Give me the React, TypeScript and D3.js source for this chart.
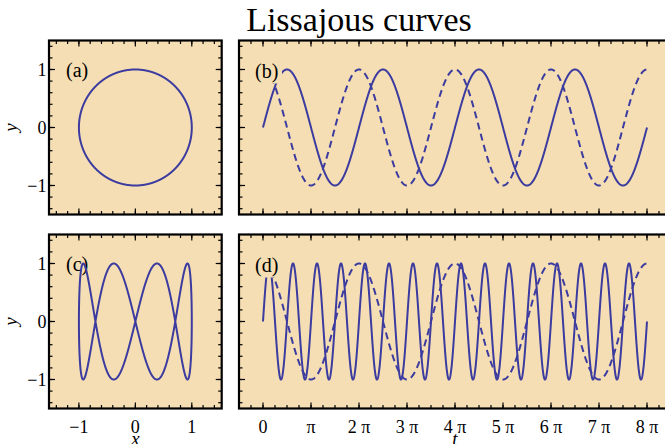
import React, { useEffect, useRef } from "react";
import * as d3 from "d3";

// chart content
const title = "Lissajous curves";
const panelLabels = ["(a)", "(b)", "(c)", "(d)"];
const yFrequencies = [1, 4]; // y = sin(k t), top row and bottom row
const xFrequency = 1; // x = cos(t)
const tMax = 8 * Math.PI;
const unitTicks = [-1, 0, 1];
const unitTickLabels = ["\u22121", "0", "1"];
const piMultiples = [0, 1, 2, 3, 4, 5, 6, 7, 8];
const piTickLabels = ["0", "\u03c0", "2 \u03c0", "3 \u03c0", "4 \u03c0", "5 \u03c0", "6 \u03c0", "7 \u03c0", "8 \u03c0"];

const W = 665;
const H = 444;
const WHEAT = "#f5deb3";
const LINE = "#3b3ba0";
const SERIF = "'Liberation Serif', 'Times New Roman', serif";

const App = () => {
    const svgRef = useRef<SVGSVGElement>(null);

    useEffect(() => {
        const svg = d3.select(svgRef.current);
        svg.selectAll("*").remove();

        const rows = [
            { top: 40.5, bottom: 214.5 },
            { top: 234.5, bottom: 408.5 },
        ];
        const leftCol = { left: 49, right: 221.7 };
        const rightCol = { left: 239, right: 671 };

        const xUnit = d3.scaleLinear().domain([-1.53, 1.53]).range([leftCol.left, leftCol.right]);
        const tScale = d3.scaleLinear().domain([-Math.PI / 2, 8.5 * Math.PI]).range([rightCol.left, rightCol.right]);

        const tSamples = d3.range(0, 2001).map((i) => (i / 2000) * tMax);
        const loopSamples = d3.range(0, 2001).map((i) => (i / 2000) * 2 * Math.PI);

        svg.append("text")
            .attr("x", 359)
            .attr("y", 31)
            .attr("text-anchor", "middle")
            .attr("font-family", SERIF)
            .attr("font-size", 34)
            .text(title);

        const drawFrame = (g, xs, ys, xMajor, xMinor, yMajor, yMinor) => {
            const [x0, x1] = xs.range();
            const [y0, y1] = [ys.range()[1], ys.range()[0]];
            const tick = (x1a, y1a, x2a, y2a) =>
                g.append("line")
                    .attr("x1", x1a).attr("y1", y1a).attr("x2", x2a).attr("y2", y2a)
                    .attr("stroke", "black").attr("stroke-width", 1.2);
            xMinor.forEach((v) => {
                const x = xs(v);
                tick(x, y1, x, y1 - 3.5);
                tick(x, y0, x, y0 + 3.5);
            });
            xMajor.forEach((v) => {
                const x = xs(v);
                tick(x, y1, x, y1 - 6);
                tick(x, y0, x, y0 + 6);
            });
            yMinor.forEach((v) => {
                const y = ys(v);
                tick(x0, y, x0 + 3.5, y);
                tick(x1, y, x1 - 3.5, y);
            });
            yMajor.forEach((v) => {
                const y = ys(v);
                tick(x0, y, x0 + 6, y);
                tick(x1, y, x1 - 6, y);
            });
            g.append("rect")
                .attr("x", x0).attr("y", y0)
                .attr("width", x1 - x0).attr("height", y1 - y0)
                .attr("fill", "none").attr("stroke", "black").attr("stroke-width", 2.2);
        };

        const unitMinor = d3.range(-7, 8).map((i) => i * 0.2);
        const piMajor = piMultiples.map((k) => k * Math.PI);
        const piMinor = d3.range(-2, 35).map((i) => (i * Math.PI) / 4);

        rows.forEach((row, r) => {
            const k = yFrequencies[r];
            const yScale = d3.scaleLinear().domain([-1.5, 1.5]).range([row.bottom, row.top]);

            // left panel: parametric curve
            const gl = svg.append("g");
            gl.append("rect")
                .attr("x", leftCol.left).attr("y", row.top)
                .attr("width", leftCol.right - leftCol.left).attr("height", row.bottom - row.top)
                .attr("fill", WHEAT);
            gl.append("text")
                .attr("x", leftCol.left + 17)
                .attr("y", row.top + 36)
                .attr("font-family", SERIF)
                .attr("font-size", 20)
                .text(panelLabels[r * 2]);
            const lissajous = d3.line<number>()
                .x((t) => xUnit(Math.cos(xFrequency * t)))
                .y((t) => yScale(Math.sin(k * t)));
            gl.append("path")
                .attr("d", lissajous(loopSamples))
                .attr("fill", "none").attr("stroke", LINE).attr("stroke-width", 2);
            drawFrame(gl, xUnit, yScale, unitTicks, unitMinor, unitTicks, unitMinor);

            // right panel: x(t) dashed, y(t) solid
            const gr = svg.append("g");
            gr.append("rect")
                .attr("x", rightCol.left).attr("y", row.top)
                .attr("width", rightCol.right - rightCol.left).attr("height", row.bottom - row.top)
                .attr("fill", WHEAT);
            const xLine = d3.line<number>().x((t) => tScale(t)).y((t) => yScale(Math.cos(xFrequency * t)));
            const yLine = d3.line<number>().x((t) => tScale(t)).y((t) => yScale(Math.sin(k * t)));
            gr.append("path")
                .attr("d", xLine(tSamples))
                .attr("fill", "none").attr("stroke", LINE).attr("stroke-width", 2)
                .attr("stroke-dasharray", "7,4.5");
            gr.append("path")
                .attr("d", yLine(tSamples))
                .attr("fill", "none").attr("stroke", LINE).attr("stroke-width", 2);
            gr.append("rect")
                .attr("x", rightCol.left + 14).attr("y", row.top + 18)
                .attr("width", 29).attr("height", 25)
                .attr("fill", WHEAT);
            gr.append("text")
                .attr("x", rightCol.left + 16)
                .attr("y", row.top + 37)
                .attr("font-family", SERIF)
                .attr("font-size", 20)
                .text(panelLabels[r * 2 + 1]);
            drawFrame(gr, tScale, yScale, piMajor, piMinor, unitTicks, unitMinor);

            // y tick labels
            unitTicks.forEach((v, i) => {
                svg.append("text")
                    .attr("x", 46.5)
                    .attr("y", yScale(v) + 6)
                    .attr("text-anchor", "end")
                    .attr("font-family", SERIF)
                    .attr("font-size", 18)
                    .text(unitTickLabels[i]);
            });

            svg.append("text")
                .attr("transform", `translate(17,${yScale(0)}) rotate(-90)`)
                .attr("text-anchor", "middle")
                .attr("font-family", SERIF)
                .attr("font-style", "italic")
                .attr("font-size", 19)
                .text("y");

            if (r === 1) {
                unitTicks.forEach((v, i) => {
                    svg.append("text")
                        .attr("x", xUnit(v))
                        .attr("y", 432.5)
                        .attr("text-anchor", "middle")
                        .attr("font-family", SERIF)
                        .attr("font-size", 18)
                        .text(unitTickLabels[i]);
                });
                piMultiples.forEach((m, i) => {
                    svg.append("text")
                        .attr("x", tScale(m * Math.PI))
                        .attr("y", 432.5)
                        .attr("text-anchor", "middle")
                        .attr("font-family", SERIF)
                        .attr("font-size", 18)
                        .text(piTickLabels[i]);
                });
                svg.append("text")
                    .attr("x", xUnit(0))
                    .attr("y", 444.5)
                    .attr("text-anchor", "middle")
                    .attr("font-family", SERIF)
                    .attr("font-style", "italic")
                    .attr("font-size", 19)
                    .text("x");
                svg.append("text")
                    .attr("x", tScale(4 * Math.PI))
                    .attr("y", 444.5)
                    .attr("text-anchor", "middle")
                    .attr("font-family", SERIF)
                    .attr("font-style", "italic")
                    .attr("font-size", 19)
                    .text("t");
            }
        });
    }, []);

    return (
        <svg
            ref={svgRef}
            width={W}
            height={H}
            style={{ position: "absolute", left: 0, top: 0, background: "white" }}
        ></svg>
    );
};

export default App;
